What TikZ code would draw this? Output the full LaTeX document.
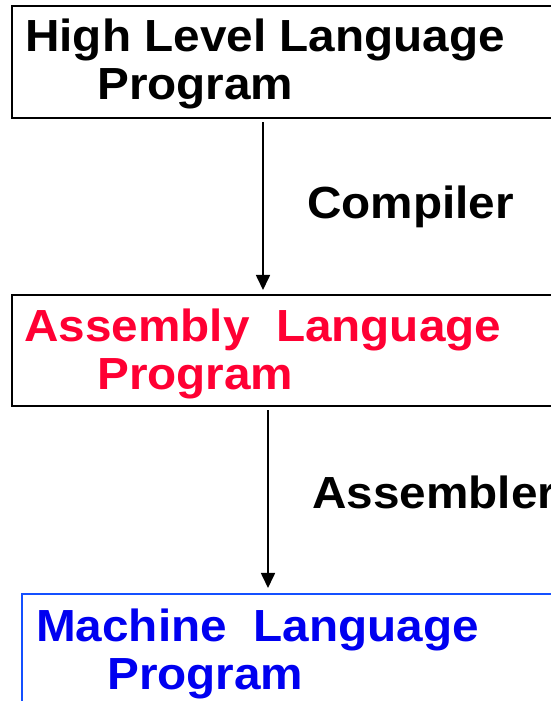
\documentclass[tikz,border=0pt]{standalone}
\usepackage{fontspec}
\setmainfont{Liberation Sans}
\usetikzlibrary{arrows.meta}
\definecolor{asmred}{RGB}{255,0,51}
\definecolor{mlblue}{RGB}{0,0,240}
\definecolor{mlframe}{RGB}{20,80,255}
% slightly widened bold lettering
\newcommand{\widetxt}[1]{\scalebox{1.06}[1]{#1}}
\begin{document}
\begin{tikzpicture}[x=1pt,y=1pt,
  stage/.style={draw, line width=2.2pt, anchor=north west, inner sep=0pt},
  ttl/.style={anchor=base west, inner sep=0pt, font=\fontsize{45}{45}\selectfont\bfseries},
  tool/.style={anchor=base west, inner sep=0pt, font=\fontsize{45}{45}\selectfont\bfseries},
  arr/.style={-{Triangle[width=14pt,length=15pt]}, line width=1.7pt}]
\useasboundingbox (0,0) rectangle (551,701);
\clip (0,0) rectangle (551,701);
% stage frames (they run past the right edge)
\node[stage, minimum width=560pt, minimum height=112pt] (hl) at (11,696) {};
\node[stage, minimum width=560pt, minimum height=111pt] (al) at (11,407) {};
\node[stage, draw=mlframe, minimum width=560pt, minimum height=130pt] (ml) at (21,108) {};
% stage titles
\node[ttl] (hl1) at (25,649) {\widetxt{High Level Language}};
\node[ttl] (hl2) at (97,601) {\widetxt{Program}};
\node[ttl, text=asmred] (al1) at (24,359) {\widetxt{Assembly\ \ Language}};
\node[ttl, text=asmred] (al2) at (97,311) {\widetxt{Program}};
\node[ttl, text=mlblue] (ml1) at (36,59) {\widetxt{Machine\ \ Language}};
\node[ttl, text=mlblue] (ml2) at (107,11) {\widetxt{Program}};
% translators
\node[tool] (comp) at (307,482) {\widetxt{Compiler}};
\node[tool] (asm) at (312,192) {\widetxt{Assembler}};
\coordinate (c1) at (263,0);
\coordinate (c2) at (268,0);
\draw[arr, shorten <=3pt, shorten >=4pt] (hl.south -| c1) -- (al.north -| c1);
\draw[arr, shorten <=3pt, shorten >=5pt] (al.south -| c2) -- (ml.north -| c2);
\end{tikzpicture}
\end{document}
